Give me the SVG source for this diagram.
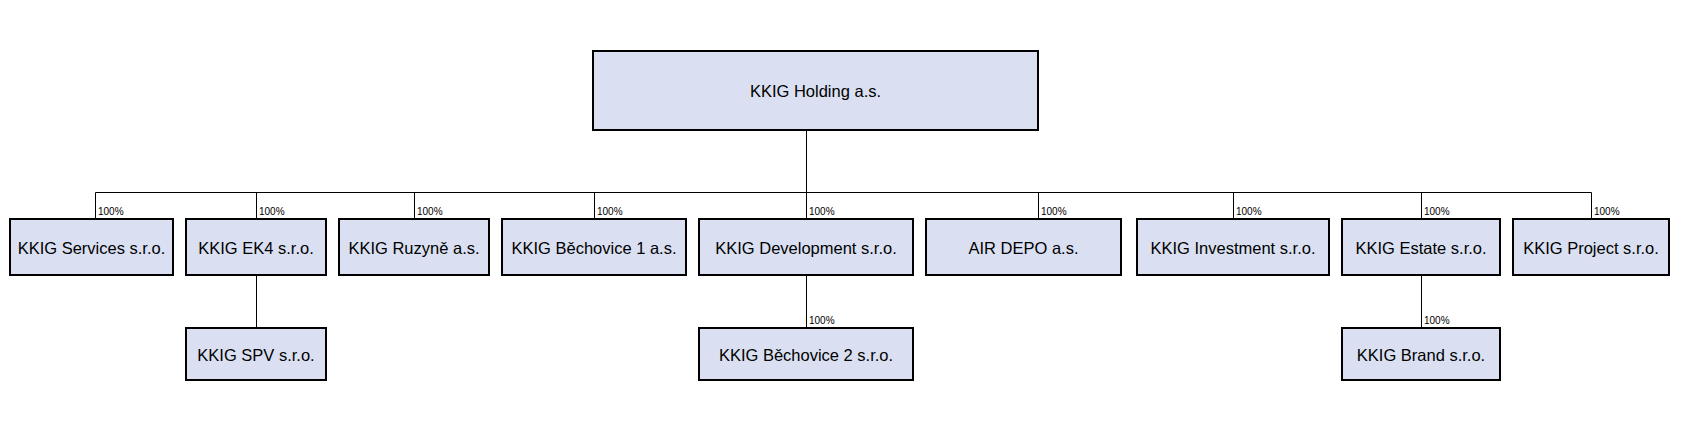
<svg xmlns="http://www.w3.org/2000/svg" width="1688" height="436" viewBox="0 0 1688 436">
<style>
.box{fill:#DAE0F2;stroke:#000;stroke-width:2}
.t{font-family:"Liberation Sans",Arial,sans-serif;font-size:16.5px;fill:#000;text-anchor:middle}
.p{font-family:"Liberation Sans",Arial,sans-serif;font-size:10px;fill:#000}
.c{stroke:#000;stroke-width:1;fill:none}
</style>
<rect width="1688" height="436" fill="#fff"/>
<g id="connectors">
<path class="c" d="M806.5 130V192.5M95.5 192.5H1591.5M95.5 192.5V219M256.5 192.5V219M414.5 192.5V219M594.5 192.5V219M806.5 192.5V219M1038.5 192.5V219M1233.5 192.5V219M1421.5 192.5V219M1591.5 192.5V219M256.5 275V328M806.5 275V328M1421.5 275V328"/>
<text class="p" x="98" y="215">100%</text>
<text class="p" x="259" y="215">100%</text>
<text class="p" x="417" y="215">100%</text>
<text class="p" x="597" y="215">100%</text>
<text class="p" x="809" y="215">100%</text>
<text class="p" x="1041" y="215">100%</text>
<text class="p" x="1236" y="215">100%</text>
<text class="p" x="1424" y="215">100%</text>
<text class="p" x="1594" y="215">100%</text>
<text class="p" x="809" y="324">100%</text>
<text class="p" x="1424" y="324">100%</text>
</g>
<g id="holding"><rect class="box" x="593" y="51" width="445" height="79"/><text class="t" x="815.5" y="97">KKIG Holding a.s.</text></g>
<g id="services"><rect class="box" x="10" y="219" width="163" height="56"/><text class="t" x="91.5" y="254">KKIG Services s.r.o.</text></g>
<g id="ek4"><rect class="box" x="186" y="219" width="140" height="56"/><text class="t" x="256" y="254">KKIG EK4 s.r.o.</text></g>
<g id="ruzyne"><rect class="box" x="339" y="219" width="150" height="56"/><text class="t" x="414" y="254">KKIG Ruzyně a.s.</text></g>
<g id="bechovice1"><rect class="box" x="502" y="219" width="184" height="56"/><text class="t" x="594" y="254">KKIG Běchovice 1 a.s.</text></g>
<g id="development"><rect class="box" x="699" y="219" width="214" height="56"/><text class="t" x="806" y="254">KKIG Development s.r.o.</text></g>
<g id="airdepo"><rect class="box" x="926" y="219" width="195" height="56"/><text class="t" x="1023.5" y="254">AIR DEPO a.s.</text></g>
<g id="investment"><rect class="box" x="1137" y="219" width="192" height="56"/><text class="t" x="1233" y="254">KKIG Investment s.r.o.</text></g>
<g id="estate"><rect class="box" x="1342" y="219" width="158" height="56"/><text class="t" x="1421" y="254">KKIG Estate s.r.o.</text></g>
<g id="project"><rect class="box" x="1513" y="219" width="156" height="56"/><text class="t" x="1591" y="254">KKIG Project s.r.o.</text></g>
<g id="spv"><rect class="box" x="186" y="328" width="140" height="52"/><text class="t" x="256" y="361">KKIG SPV s.r.o.</text></g>
<g id="bechovice2"><rect class="box" x="699" y="328" width="214" height="52"/><text class="t" x="806" y="361">KKIG Běchovice 2 s.r.o.</text></g>
<g id="brand"><rect class="box" x="1342" y="328" width="158" height="52"/><text class="t" x="1421" y="361">KKIG Brand s.r.o.</text></g>
</svg>
